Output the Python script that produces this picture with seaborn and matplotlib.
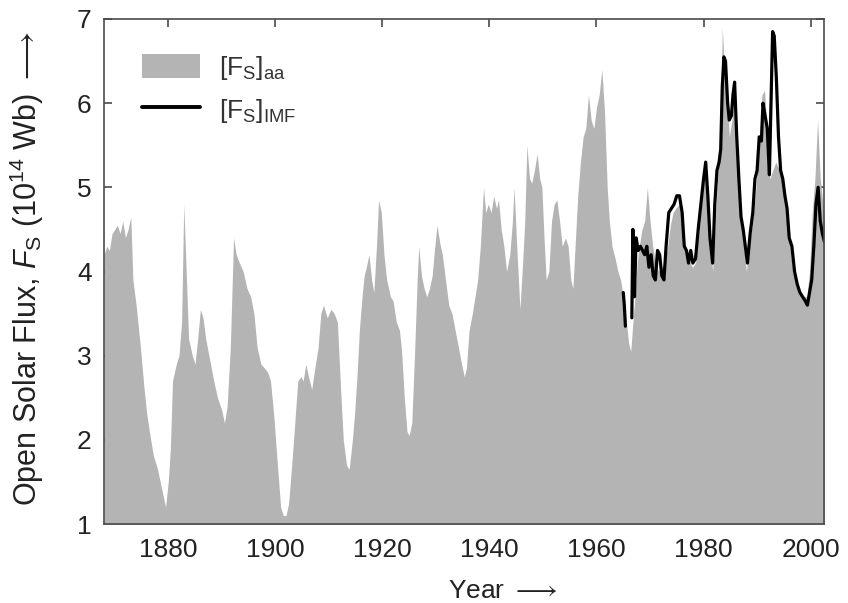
import numpy as np
import pandas as pd
import matplotlib
matplotlib.use("Agg")
import matplotlib.pyplot as plt
import seaborn as sns
from matplotlib.patches import Patch
from matplotlib.lines import Line2D

# ---- data ----
aa_years = [1868.0, 1868.5, 1869.0, 1869.5, 1870.0, 1870.5, 1871.0, 1871.5, 1872.0, 1872.5,
            1873.0, 1873.4, 1874.0, 1874.8, 1875.5, 1876.0, 1876.6, 1877.2, 1878.0, 1878.5,
            1879.0, 1879.5, 1880.0, 1880.4, 1880.8, 1881.5, 1882.0, 1882.5, 1882.9, 1883.3,
            1883.8, 1884.5, 1885.0, 1885.5, 1886.0, 1886.5, 1887.0, 1887.9, 1888.5, 1889.2,
            1890.0, 1890.5, 1891.0, 1891.6, 1892.2, 1892.7, 1893.3, 1894.0, 1894.7, 1895.4,
            1896.0, 1896.6, 1897.3, 1898.0, 1898.6, 1899.1, 1899.7, 1900.4, 1901.0, 1901.5,
            1902.0, 1902.5, 1903.3, 1904.2, 1904.8, 1905.2, 1905.7, 1906.2, 1906.8, 1907.5,
            1908.0, 1908.5, 1909.0, 1909.7, 1910.4, 1911.0, 1911.6, 1912.2, 1912.7, 1913.3,
            1913.8, 1914.4, 1914.8, 1915.3, 1915.7, 1916.2, 1916.6, 1917.0, 1917.5, 1918.0,
            1918.4, 1918.9, 1919.3, 1919.8, 1920.3, 1920.8, 1921.5, 1922.0, 1922.6, 1923.2,
            1923.6, 1924.1, 1924.6, 1925.0, 1925.5, 1926.0, 1926.5, 1926.8, 1927.3, 1927.8,
            1928.3, 1928.8, 1929.3, 1929.8, 1930.2, 1930.7, 1931.2, 1931.8, 1932.4, 1933.0,
            1933.6, 1934.2, 1934.8, 1935.3, 1935.7, 1936.2, 1936.8, 1937.3, 1937.8, 1938.3,
            1938.9, 1939.3, 1939.8, 1940.3, 1940.8, 1941.3, 1941.7, 1942.2, 1942.7, 1943.2,
            1943.8, 1944.3, 1944.6, 1945.1, 1945.7, 1946.2, 1946.6, 1947.0, 1947.5, 1947.9,
            1948.4, 1948.9, 1949.4, 1949.8, 1950.2, 1950.6, 1951.1, 1951.6, 1952.1, 1952.6,
            1953.1, 1953.6, 1954.2, 1954.7, 1955.2, 1955.6, 1956.0, 1956.5, 1957.0, 1957.5,
            1958.0, 1958.5, 1959.0, 1959.5, 1960.0, 1960.5, 1961.0, 1961.5, 1962.0, 1962.4,
            1962.9, 1963.5, 1964.0, 1964.5, 1965.0, 1965.5, 1966.0, 1966.4, 1966.8, 1967.2,
            1967.6, 1968.0, 1968.5, 1969.0, 1969.5, 1970.0, 1970.5, 1971.0, 1971.6, 1972.2,
            1972.8, 1973.3, 1973.8, 1974.3, 1974.8, 1975.5, 1976.0, 1976.6, 1977.2, 1977.9,
            1978.5, 1979.2, 1979.8, 1980.3, 1980.8, 1981.3, 1981.7, 1982.2, 1982.7, 1983.1,
            1983.5, 1983.9, 1984.3, 1984.8, 1985.3, 1985.8, 1986.3, 1986.9, 1987.5, 1988.0,
            1988.5, 1989.2, 1989.8, 1990.4, 1990.9, 1991.4, 1991.9, 1992.4, 1992.9, 1993.5,
            1994.2, 1994.8, 1995.4, 1996.1, 1996.7, 1997.3, 1998.0, 1998.7, 1999.3, 1999.8,
            2000.3, 2000.8, 2001.3, 2001.8, 2002.3, 2002.6]
aa_flux = [4.2, 4.3, 4.25, 4.45, 4.5, 4.55, 4.45, 4.6, 4.4, 4.5,
           4.65, 3.9, 3.6, 3.1, 2.6, 2.3, 2.05, 1.82, 1.65, 1.5,
           1.35, 1.2, 1.5, 1.9, 2.7, 2.9, 3.0, 3.4, 4.8, 4.1,
           3.2, 3.0, 2.9, 3.2, 3.55, 3.45, 3.2, 2.9, 2.7, 2.5,
           2.35, 2.2, 2.4, 3.1, 4.4, 4.2, 4.1, 4.0, 3.8, 3.7,
           3.5, 3.1, 2.9, 2.85, 2.8, 2.7, 2.3, 1.7, 1.2, 1.1,
           1.1, 1.25, 1.9, 2.7, 2.75, 2.7, 2.9, 2.75, 2.6, 2.9,
           3.1, 3.5, 3.6, 3.45, 3.55, 3.5, 3.4, 2.6, 2.0, 1.7,
           1.65, 2.0, 2.3, 2.8, 3.3, 3.7, 3.95, 4.05, 4.2, 3.9,
           3.75, 4.3, 4.85, 4.7, 4.2, 3.9, 3.7, 3.65, 3.4, 3.3,
           3.05, 2.5, 2.1, 2.05, 2.2, 3.0, 3.9, 4.3, 3.95, 3.8,
           3.7, 3.8, 3.95, 4.3, 4.55, 4.35, 4.2, 3.9, 3.6, 3.5,
           3.3, 3.1, 2.9, 2.75, 2.85, 3.3, 3.5, 3.7, 3.9, 4.3,
           5.0, 4.7, 4.8, 4.7, 4.9, 4.75, 4.85, 4.5, 4.3, 4.0,
           4.2, 4.6, 5.0, 4.3, 3.55, 4.1, 4.6, 5.5, 5.1, 5.05,
           5.2, 5.4, 5.1, 5.0, 4.4, 3.9, 4.0, 4.6, 4.8, 4.85,
           4.6, 4.3, 4.4, 4.3, 3.9, 3.8, 4.3, 4.9, 5.3, 5.6,
           5.7, 6.1, 5.8, 5.7, 5.95, 6.1, 6.4, 5.9, 5.0, 4.6,
           4.3, 4.15, 4.0, 3.9, 3.7, 3.45, 3.15, 3.05, 3.4, 3.7,
           4.1, 4.3, 4.5, 4.6, 5.0, 4.6, 4.3, 4.1, 4.0, 4.05,
           4.1, 4.3, 4.55, 4.7, 4.75, 4.8, 4.5, 4.2, 4.15, 4.05,
           4.1, 4.5, 4.9, 5.25, 4.9, 4.3, 4.0, 4.6, 5.2, 5.5,
           6.9, 6.4, 6.3, 5.6, 5.8, 6.15, 5.4, 4.6, 4.3, 4.0,
           4.3, 4.6, 5.0, 5.5, 6.1, 6.15, 5.6, 5.1, 5.2, 5.3,
           5.2, 5.0, 4.85, 4.3, 4.0, 3.85, 3.75, 3.7, 3.7, 4.0,
           4.7, 5.1, 5.8, 5.1, 4.8, 4.6]

# IMF series: NaN marks the data gap in 1966
imf_years = [1965.0, 1965.2, 1965.4, 1966.0, 1966.6, 1966.8, 1967.1, 1967.4, 1967.8, 1968.2,
             1968.6, 1969.0, 1969.4, 1969.8, 1970.2, 1970.6, 1971.0, 1971.4, 1971.8, 1972.2,
             1972.6, 1973.0, 1973.5, 1974.0, 1974.5, 1975.0, 1975.5, 1976.0, 1976.4, 1976.8,
             1977.2, 1977.6, 1978.0, 1978.5, 1979.0, 1979.5, 1980.0, 1980.4, 1980.8, 1981.2,
             1981.7, 1982.1, 1982.5, 1982.9, 1983.2, 1983.5, 1983.8, 1984.1, 1984.5, 1984.8,
             1985.2, 1985.5, 1985.8, 1986.2, 1986.6, 1987.0, 1987.4, 1987.8, 1988.2, 1988.7,
             1989.2, 1989.6, 1990.0, 1990.4, 1990.8, 1991.1, 1991.5, 1991.9, 1992.3, 1992.6,
             1992.9, 1993.2, 1993.6, 1994.0, 1994.4, 1994.8, 1995.2, 1995.6, 1996.0, 1996.5,
             1997.0, 1997.5, 1998.0, 1998.5, 1999.0, 1999.4, 1999.8, 2000.2, 2000.6, 2001.0,
             2001.4, 2001.8, 2002.2, 2002.6]
imf_flux = [3.75, 3.6, 3.35, np.nan, 3.45, 4.5, 3.7, 4.4, 4.25, 4.3,
            4.25, 4.2, 4.3, 4.05, 4.2, 3.95, 3.9, 4.25, 4.2, 3.95,
            3.9, 4.3, 4.7, 4.75, 4.8, 4.9, 4.9, 4.7, 4.3, 4.25,
            4.1, 4.25, 4.1, 4.15, 4.5, 4.8, 5.1, 5.3, 4.9, 4.4,
            4.1, 4.8, 5.2, 5.3, 5.45, 6.2, 6.55, 6.5, 6.0, 5.8,
            5.85, 6.1, 6.25, 5.6, 5.1, 4.65, 4.5, 4.3, 4.1, 4.45,
            4.7, 5.1, 5.2, 5.6, 5.55, 6.0, 5.85, 5.7, 5.15, 6.0,
            6.85, 6.8, 6.3, 5.6, 5.2, 5.1, 4.9, 4.75, 4.4, 4.3,
            4.0, 3.85, 3.75, 3.7, 3.65, 3.6, 3.75, 3.9, 4.3, 4.8,
            5.0, 4.6, 4.45, 4.35]

x_ticks = [1880, 1900, 1920, 1940, 1960, 1980, 2000]
y_ticks = [1, 2, 3, 4, 5, 6, 7]

aa_df = pd.DataFrame({"Year": aa_years, "Flux": aa_flux})
imf_df = pd.DataFrame({"Year": imf_years, "Flux": imf_flux})
# split into contiguous segments at the gap (NaN)
imf_df["seg"] = imf_df["Flux"].isna().cumsum()
imf_df = imf_df.dropna()

# ---- style ----
sns.set_style("ticks")
plt.rcParams["font.family"] = ["Liberation Sans", "DejaVu Sans"]
plt.rcParams["mathtext.fontset"] = "custom"
plt.rcParams["mathtext.rm"] = "Liberation Sans"
plt.rcParams["mathtext.it"] = "Liberation Sans:italic"
plt.rcParams["mathtext.bf"] = "Liberation Sans:bold"

GRAY = "#b4b4b4"
SPINE = "#4a4a4a"
TXT = "#222222"

fig = plt.figure(figsize=(8.48, 6.03), dpi=100)
ax = fig.add_axes([104 / 848, 1 - 524 / 603, 720 / 848, 505 / 603])

ax.fill_between(aa_df["Year"], 0, aa_df["Flux"], color=GRAY, linewidth=0, zorder=1)
sns.lineplot(data=imf_df, x="Year", y="Flux", units="seg", ax=ax, color="black",
             linewidth=2.3, zorder=3, estimator=None, sort=False)

ax.set_xlim(1868, 2002.5)
ax.set_ylim(1, 7)
ax.set_xticks(x_ticks)
ax.set_yticks(y_ticks)

for s in ax.spines.values():
    s.set_visible(True)
    s.set_color(SPINE)
    s.set_linewidth(1.2)
    s.set_zorder(5)

ax.tick_params(axis="both", direction="in", length=6, width=1.2, color=SPINE,
               top=True, right=True, labelsize=19, labelcolor=TXT)
ax.tick_params(axis="x", pad=10)
ax.tick_params(axis="y", pad=9)

ax.set_xlabel(r"Year $\longrightarrow$", fontsize=19, color=TXT)
ax.xaxis.set_label_coords(0.554, -0.108)
ax.set_ylabel(r"Open Solar Flux, $F_\mathrm{S}$ (10$^{14}$ Wb) $\longrightarrow$",
              fontsize=22, color=TXT)
ax.yaxis.set_label_coords(-0.08, 0.505)

handles = [Patch(facecolor=GRAY, edgecolor="none"),
           Line2D([0], [0], color="black", linewidth=2.8)]
labels = [r"$[\mathrm{F}_\mathrm{S}]_\mathrm{aa}$", r"$[\mathrm{F}_\mathrm{S}]_\mathrm{IMF}$"]
leg = ax.legend(handles, labels, loc="upper left", bbox_to_anchor=(0.031, 0.962),
                frameon=False, fontsize=19, handlelength=2.2, handleheight=1.0,
                handletextpad=0.7, labelspacing=0.55, borderaxespad=0.2)
for t in leg.get_texts():
    t.set_color("#333333")

fig.savefig("out.png", dpi=100)
